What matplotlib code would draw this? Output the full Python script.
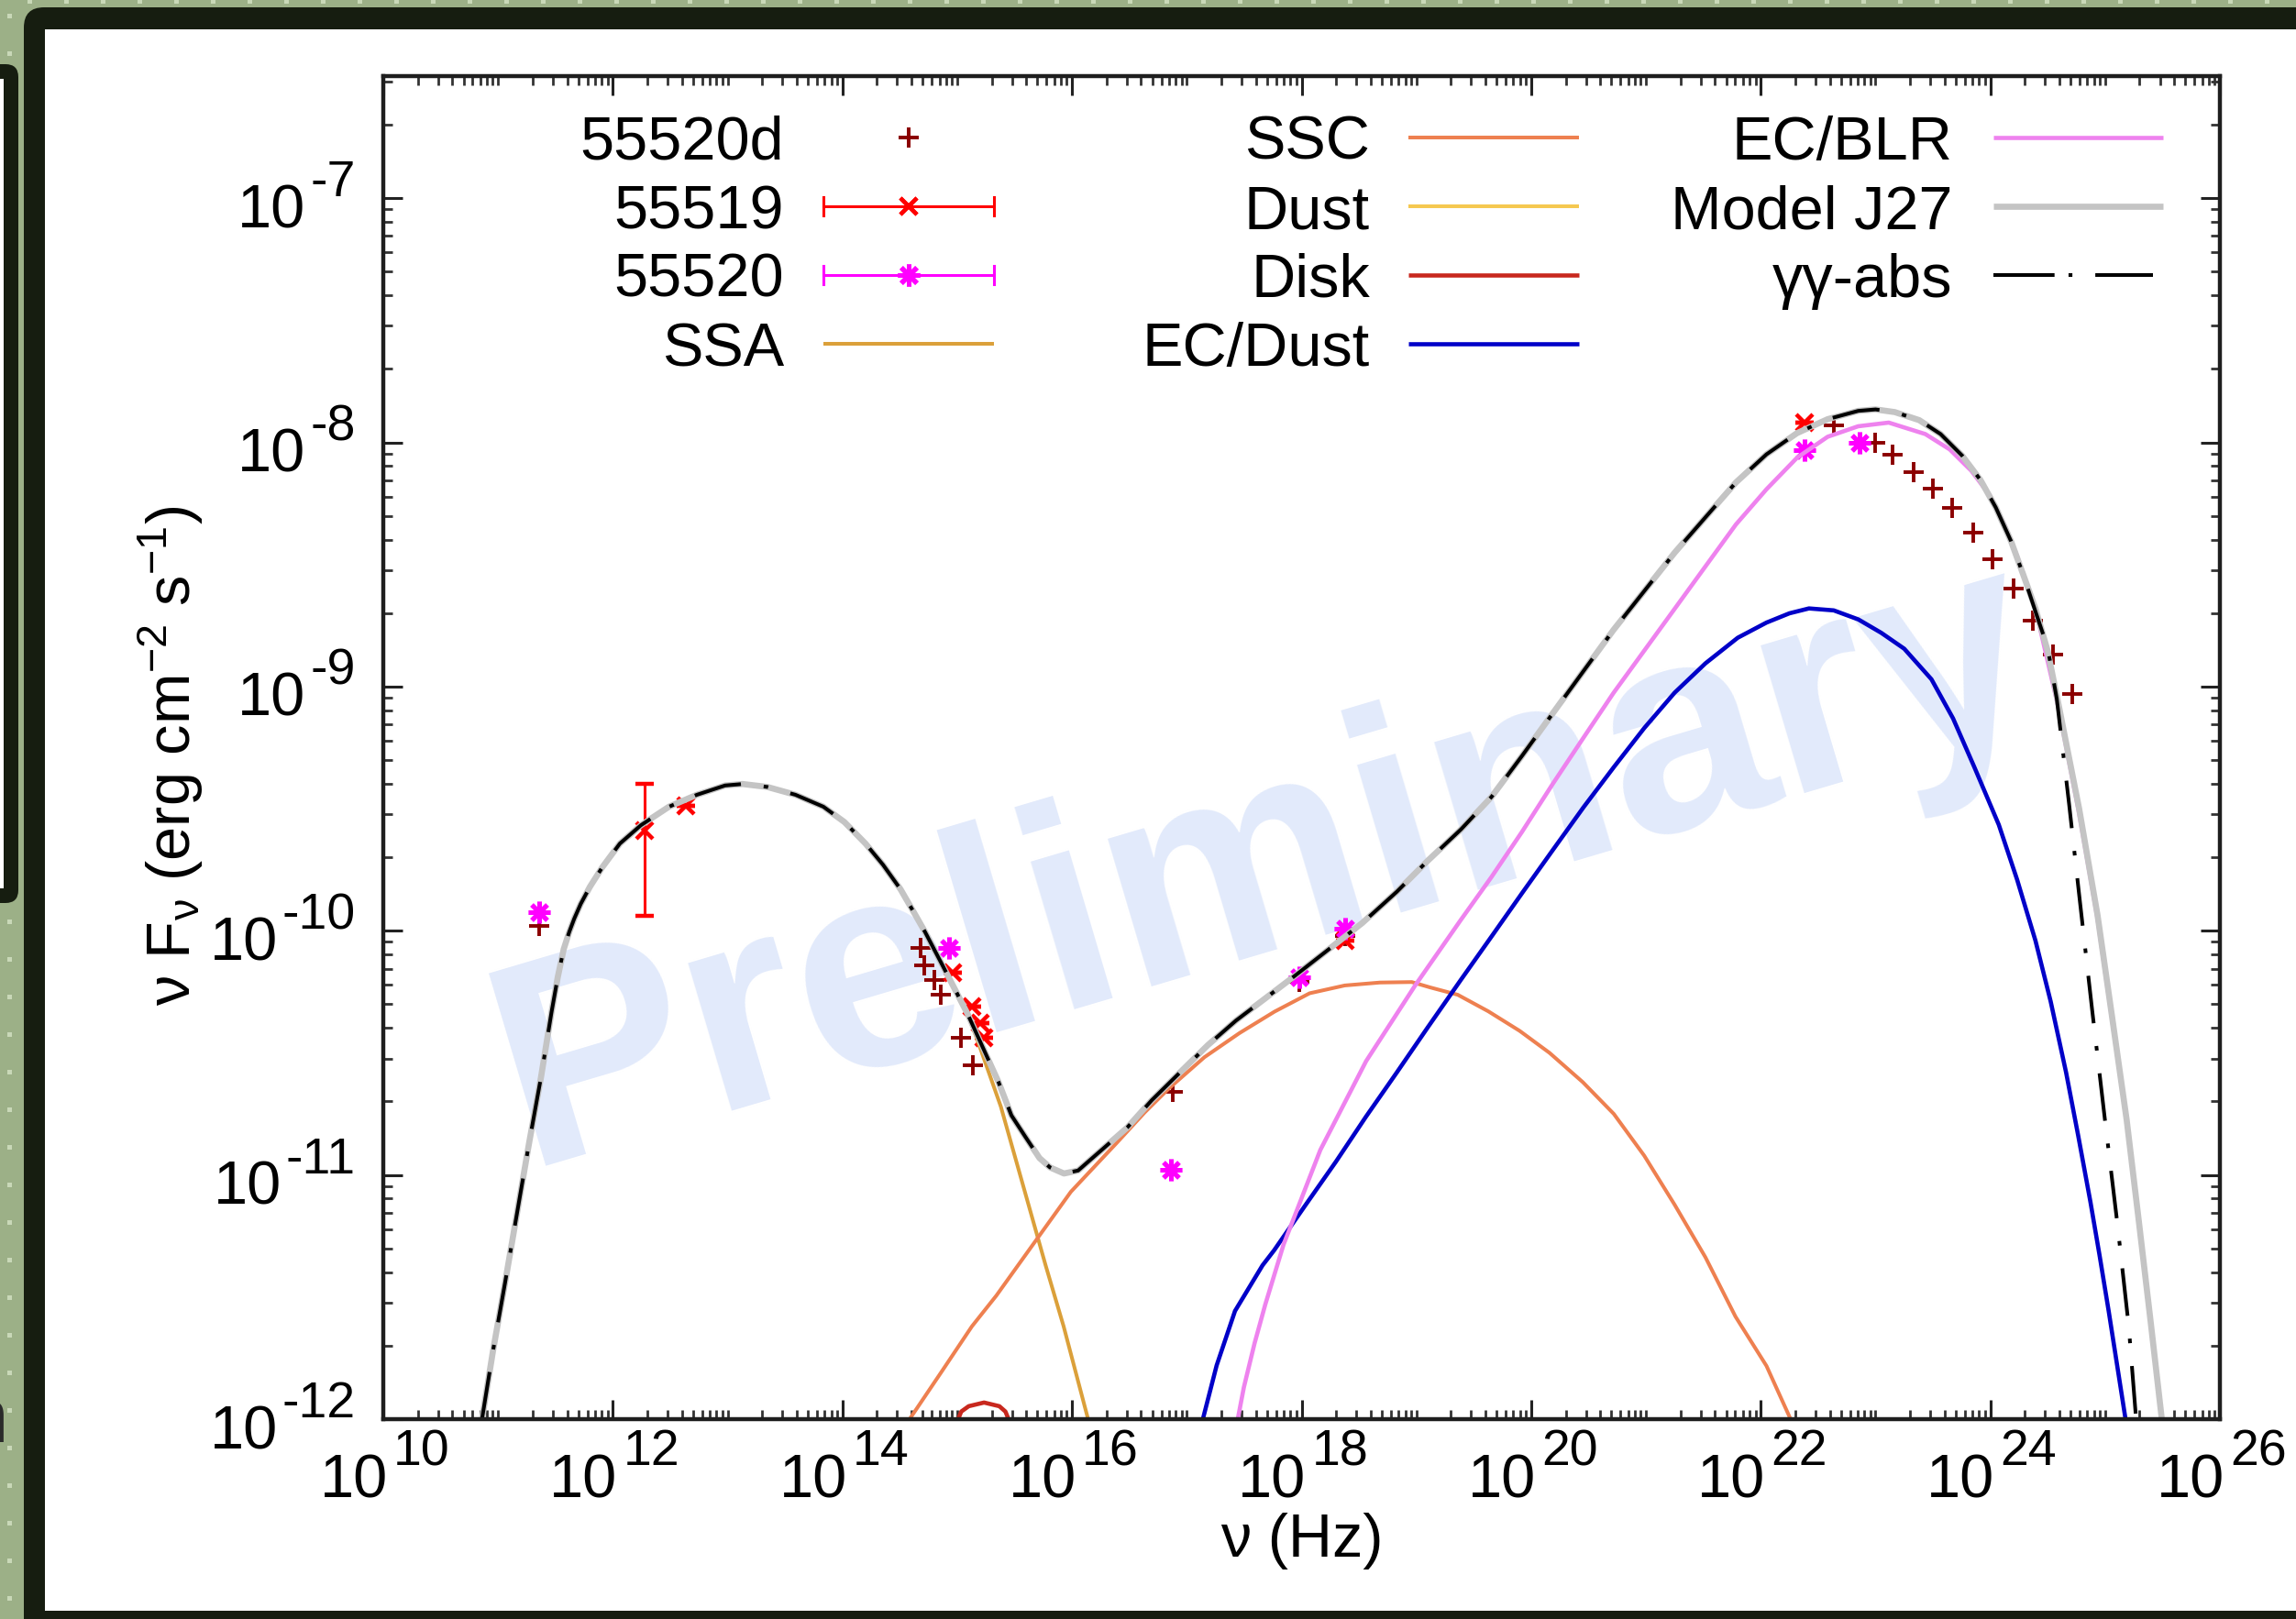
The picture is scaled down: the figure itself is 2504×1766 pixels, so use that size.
import matplotlib
matplotlib.use("Agg")
import matplotlib.pyplot as plt
from matplotlib.patches import FancyBboxPatch
from matplotlib.lines import Line2D
from matplotlib.text import Annotation
from matplotlib.ticker import FixedLocator, NullFormatter
from matplotlib.transforms import IdentityTransform

plt.rcParams['font.family'] = ['Liberation Sans', 'DejaVu Sans']
plt.rcParams['mathtext.fontset'] = 'custom'
plt.rcParams['mathtext.rm'] = 'Liberation Sans'
plt.rcParams['mathtext.it'] = 'Liberation Sans:italic'
plt.rcParams['mathtext.bf'] = 'Liberation Sans:bold'
plt.rcParams['lines.scale_dashes'] = False

W, H, DPI = 2504, 1766, 100

# ------------------------------------------------------------------
# Values: log10(nu / Hz) and log10(nuFnu / erg cm^-2 s^-1)
# ------------------------------------------------------------------
obs_55520d_lognu = [11.36, 14.68, 14.71, 14.80, 14.86, 15.03, 15.14, 16.88, 17.98, 18.38,
                    22.64, 23.00, 23.15, 23.33, 23.50, 23.67, 23.85, 24.02, 24.20, 24.37,
                    24.55, 24.71]
obs_55520d_logF = [-9.98, -10.07, -10.14, -10.20, -10.26, -10.44, -10.55, -10.66, -10.21, -10.02,
                   -7.93, -8.00, -8.05, -8.12, -8.19, -8.27, -8.37, -8.48, -8.60, -8.73,
                   -8.87, -9.03]

obs_55519_lognu = [12.28, 12.64, 14.96, 15.13, 15.20, 15.23, 18.38, 22.38]
obs_55519_logF = [-9.59, -9.49, -10.17, -10.31, -10.38, -10.44, -10.04, -7.92]
obs_55519_logF_low = [-9.94, -9.49, -10.17, -10.31, -10.38, -10.44, -10.04, -7.92]
obs_55519_logF_high = [-9.40, -9.49, -10.17, -10.31, -10.38, -10.44, -10.04, -7.92]

obs_55520_lognu = [11.36, 14.93, 16.86, 17.98, 18.38, 22.38, 22.86]
obs_55520_logF = [-9.925, -10.07, -10.98, -10.19, -9.99, -8.03, -8.00]

ssa_lognu = [10.86, 10.956, 11.06, 11.27, 11.374, 11.465, 11.52, 11.572, 11.62, 11.664, 11.72,
             11.80, 11.908, 12.061, 12.244, 12.489, 12.733, 12.978, 13.13, 13.345, 13.59,
             13.834, 14.018, 14.201, 14.354, 14.506, 14.629, 14.721, 14.87, 15.09, 15.17,
             15.38, 15.59, 15.77, 15.927, 16.14]
ssa_logF = [-12.0, -11.72, -11.444, -10.87, -10.60, -10.335, -10.19, -10.075, -10.005, -9.95,
            -9.89, -9.82, -9.74, -9.643, -9.568, -9.492, -9.443, -9.405, -9.399, -9.411, -9.443,
            -9.492, -9.555, -9.643, -9.73, -9.83, -9.93, -10.006, -10.14, -10.34, -10.44,
            -10.72, -11.07, -11.37, -11.62, -12.0]

ssc_lognu = [14.585, 14.862, 15.128, 15.341, 15.53, 15.99, 16.389, 16.633, 16.848, 17.153,
             17.459, 17.765, 18.07, 18.376, 18.682, 18.96, 19.12, 19.36, 19.627, 19.90,
             20.16, 20.45, 20.72, 20.985, 21.25, 21.518, 21.78, 22.05, 22.26]
ssc_logF = [-12.0, -11.807, -11.62, -11.494, -11.37, -11.069, -10.869, -10.744, -10.644, -10.518,
            -10.419, -10.331, -10.256, -10.224, -10.212, -10.21, -10.232, -10.262, -10.33, -10.41,
            -10.50, -10.62, -10.75, -10.921, -11.122, -11.337, -11.58, -11.782, -12.0]

dust_lognu = []   # lies below the plotted range
dust_logF = []

disk_lognu = [15.008, 15.035, 15.10, 15.234, 15.367, 15.42, 15.447]
disk_logF = [-12.0, -11.969, -11.947, -11.932, -11.947, -11.969, -12.0]

ecdust_lognu = [17.14, 17.26, 17.42, 17.66, 17.76, 18.03, 18.30, 18.56, 18.83, 19.10, 19.389,
                19.66, 19.922, 20.18, 20.455, 20.72, 20.985, 21.25, 21.518, 21.80, 22.05,
                22.25, 22.42, 22.636, 22.85, 23.05, 23.25, 23.487, 23.675, 23.861, 24.074,
                24.233, 24.393, 24.526, 24.66, 24.766, 24.872, 24.952, 25.032, 25.178]
ecdust_logF = [-12.0, -11.78, -11.557, -11.37, -11.309, -11.126, -10.945, -10.762, -10.58,
               -10.395, -10.20, -10.02, -9.845, -9.675, -9.495, -9.33, -9.17, -9.025, -8.905,
               -8.80, -8.738, -8.70, -8.68, -8.688, -8.725, -8.78, -8.845, -8.97, -9.13, -9.33,
               -9.566, -9.79, -10.04, -10.29, -10.58, -10.84, -11.11, -11.33, -11.56, -12.0]

ecblr_lognu = [17.444, 17.497, 17.59, 17.684, 17.843, 18.163, 18.562, 18.988, 19.121, 19.388,
               19.654, 19.92, 20.186, 20.452, 20.719, 20.985, 21.251, 21.518, 21.784, 22.05,
               22.316, 22.583, 22.849, 23.115, 23.434, 23.647, 23.834, 23.994, 24.127, 24.233,
               24.393, 24.6, 24.774, 24.934, 25.06, 25.188, 25.294, 25.40, 25.494]
ecblr_logF = [-12.0, -11.87, -11.69, -11.53, -11.285, -10.898, -10.534, -10.225, -10.135,
              -9.955, -9.78, -9.595, -9.40, -9.212, -9.025, -8.853, -8.681, -8.508, -8.336,
              -8.192, -8.063, -7.977, -7.934, -7.919, -7.966, -8.029, -8.116, -8.216, -8.341,
              -8.466, -8.68, -9.10, -9.52, -9.95, -10.36, -10.78, -11.20, -11.62, -12.0]

j27_lognu = [10.86, 10.956, 11.06, 11.27, 11.374, 11.465, 11.52, 11.572, 11.62, 11.664, 11.72,
             11.80, 11.908, 12.061, 12.244, 12.489, 12.733, 12.978, 13.13, 13.345, 13.59,
             13.834, 14.018, 14.201, 14.354, 14.506, 14.629, 14.721, 14.87, 15.09, 15.36,
             15.472, 15.594, 15.717, 15.808, 15.93, 16.053, 16.145, 16.267, 16.481, 16.695,
             16.939, 17.184, 17.428, 17.672, 17.918, 18.223, 18.529, 18.83, 19.095, 19.388,
             19.654, 19.92, 20.186, 20.452, 20.719, 20.985, 21.251, 21.518, 21.784, 22.05,
             22.316, 22.583, 22.849, 23.0, 23.168, 23.381, 23.567, 23.754, 23.914, 24.047,
             24.18, 24.287, 24.393, 24.5, 24.6, 24.774, 24.934, 25.06, 25.188, 25.294, 25.40,
             25.494]
j27_logF = [-12.0, -11.72, -11.444, -10.87, -10.60, -10.335, -10.19, -10.075, -10.005, -9.95,
            -9.89, -9.82, -9.74, -9.643, -9.568, -9.492, -9.443, -9.405, -9.399, -9.411, -9.443,
            -9.492, -9.555, -9.643, -9.73, -9.83, -9.93, -10.006, -10.14, -10.34, -10.62,
            -10.756, -10.844, -10.931, -10.969, -10.994, -10.982, -10.944, -10.894, -10.806,
            -10.694, -10.581, -10.468, -10.368, -10.281, -10.193, -10.081, -9.968, -9.84,
            -9.715, -9.585, -9.452, -9.284, -9.111, -8.939, -8.767, -8.609, -8.451, -8.307,
            -8.164, -8.049, -7.962, -7.905, -7.871, -7.865, -7.876, -7.909, -7.966, -8.054,
            -8.154, -8.266, -8.404, -8.542, -8.68, -8.855, -9.087, -9.501, -9.936, -10.35,
            -10.775, -11.19, -11.614, -12.0]

ggabs_lognu = [10.86, 10.956, 11.06, 11.27, 11.374, 11.465, 11.52, 11.572, 11.62, 11.664, 11.72,
               11.80, 11.908, 12.061, 12.244, 12.489, 12.733, 12.978, 13.13, 13.345, 13.59,
               13.834, 14.018, 14.201, 14.354, 14.506, 14.629, 14.721, 14.87, 15.09, 15.36,
               15.472, 15.594, 15.717, 15.808, 15.93, 16.053, 16.145, 16.267, 16.481, 16.695,
               16.939, 17.184, 17.428, 17.672, 17.918, 18.223, 18.529, 18.83, 19.095, 19.388,
               19.654, 19.92, 20.186, 20.452, 20.719, 20.985, 21.251, 21.518, 21.784, 22.05,
               22.316, 22.583, 22.849, 23.0, 23.168, 23.381, 23.567, 23.754, 23.914, 24.047,
               24.18, 24.287, 24.393, 24.50, 24.579, 24.686, 24.771, 24.886, 25.0, 25.107,
               25.206, 25.27]
ggabs_logF = [-12.0, -11.72, -11.444, -10.87, -10.60, -10.335, -10.19, -10.075, -10.005, -9.95,
              -9.89, -9.82, -9.74, -9.643, -9.568, -9.492, -9.443, -9.405, -9.399, -9.411, -9.443,
              -9.492, -9.555, -9.643, -9.73, -9.83, -9.93, -10.006, -10.14, -10.34, -10.62,
              -10.756, -10.844, -10.931, -10.969, -10.994, -10.982, -10.944, -10.894, -10.806,
              -10.694, -10.581, -10.468, -10.368, -10.281, -10.193, -10.081, -9.968, -9.84,
              -9.715, -9.585, -9.452, -9.284, -9.111, -8.939, -8.767, -8.609, -8.451, -8.307,
              -8.164, -8.049, -7.962, -7.905, -7.871, -7.865, -7.876, -7.909, -7.966, -8.054,
              -8.154, -8.266, -8.404, -8.542, -8.692, -8.842, -9.05, -9.48, -9.84, -10.32,
              -10.78, -11.20, -11.62, -12.0]

x_lim_exp = (10, 26)
y_lim_exp = (-12, -6.5)
xtick_major_exp = [10, 12, 14, 16, 18, 20, 22, 24, 26]
ytick_major_exp = [-12, -11, -10, -9, -8, -7]

legend_labels = [["55520d", "55519", "55520", "SSA"],
                 ["SSC", "Dust", "Disk", "EC/Dust"],
                 ["EC/BLR", "Model J27", "γγ-abs"]]

C_DARKRED, C_RED, C_MAG = '#8b0000', '#ff0000', '#ff00ff'
C_SSA, C_SSC, C_DUST, C_DISK = '#dba03a', '#ee8050', '#f5c850', '#c8281e'
C_ECD, C_ECB, C_J27, C_GG = '#0000c8', '#ee82ee', '#c4c4c4', '#000000'
GG_DASH_PLOT = (37.5, 18, 3.6, 18)
GG_DASH_KEY = (48, 11, 3, 18)
AST = (8, 2, 0)


def P(v):
    return [10.0 ** t for t in v]


fig = plt.figure(figsize=(W / DPI, H / DPI), dpi=DPI)
fig.patch.set_facecolor('#9cb087')


def prect(x0, y0, x1, y1, color, r=0.0, z=-10):
    style = f"round,pad=0,rounding_size={r}" if r > 0 else "square,pad=0"
    p = FancyBboxPatch((x0, H - y1), x1 - x0, y1 - y0, boxstyle=style,
                       transform=IdentityTransform(), fc=color, ec='none', zorder=z)
    fig.add_artist(p)


# slide decoration: dotted green background, dark frame, neighbouring box
for k in range(63):
    prect(30 + 40 * k, 0, 35 + 40 * k, 4, '#c9d8b8', z=-12)
for yy in [15, 56] + [1003 + 41 * k for k in range(19)]:
    prect(8, yy, 13, yy + 5, '#c9d8b8', z=-12)
prect(26, 8, 2800, 2000, '#161d10', r=22)
prect(49, 32, 2700, 1757, 'white', z=-9)
prect(-60, 70, 20, 985, '#161d10', r=14)
prect(-60, 86, 4, 969, 'white', z=-9)
fig.text(9 / W, 1 - 1573 / H, 'n', ha='right', va='baseline', fontsize=60, color='#2a2a2a')

# ------------------------------------------------------------------
ax = fig.add_axes([418 / W, 1 - 1548 / H, (2421 - 418) / W, (1548 - 83) / H])
ax.set_facecolor('white')
ax.set_xscale('log')
ax.set_yscale('log')
ax.set_xlim(10.0 ** x_lim_exp[0], 10.0 ** x_lim_exp[1])
ax.set_ylim(10.0 ** y_lim_exp[0], 10.0 ** y_lim_exp[1])

ax.xaxis.set_major_locator(FixedLocator([10.0 ** e for e in xtick_major_exp]))
xminor = []
for k in range(x_lim_exp[0], x_lim_exp[1]):
    for m in range(1, 10):
        if m == 1 and k in xtick_major_exp:
            continue
        xminor.append(m * 10.0 ** k)
ax.xaxis.set_minor_locator(FixedLocator(xminor))
ax.yaxis.set_major_locator(FixedLocator([10.0 ** e for e in ytick_major_exp]))
yminor = [m * 10.0 ** k for k in range(-12, -6) for m in range(2, 10)]
ax.yaxis.set_minor_locator(FixedLocator(yminor))
for axis in (ax.xaxis, ax.yaxis):
    axis.set_major_formatter(NullFormatter())
    axis.set_minor_formatter(NullFormatter())
ax.tick_params(which='major', direction='in', length=15, width=2.2, color='#222222',
               top=True, right=True, labelbottom=False, labelleft=False)
ax.tick_params(which='minor', direction='in', length=7.5, width=2.0, color='#333333',
               top=True, right=True)
for s in ax.spines.values():
    s.set_linewidth(3.2)
    s.set_color('#1e1e1e')
    s.set_zorder(20)

# watermark
ax.text(574 / W, 1 - 1272 / H, 'Preliminary', transform=fig.transFigure, rotation=16.5,
        rotation_mode='anchor', ha='left', va='baseline', fontsize=229, fontweight='bold',
        color='#e2eafb', zorder=1, clip_on=False)

# data
ax.plot(P(obs_55520d_lognu), P(obs_55520d_logF), ls='none', marker='+', ms=16, mew=2.8,
        color=C_DARKRED, zorder=2)
f19 = P(obs_55519_logF)
lo19 = [f - l for f, l in zip(f19, P(obs_55519_logF_low))]
hi19 = [h - f for f, h in zip(f19, P(obs_55519_logF_high))]
ax.errorbar(P(obs_55519_lognu), f19, yerr=[lo19, hi19], ls='none', marker='x', ms=13, mew=3.2,
            color=C_RED, ecolor=C_RED, elinewidth=2.2, capsize=7, capthick=2.2, zorder=2.1)
ax.plot(P(obs_55520_lognu), P(obs_55520_logF), ls='none', marker=AST, ms=17, mew=3.6,
        color=C_MAG, zorder=2.2)

# model curves (gnuplot drawing order)
ax.plot(P(ssa_lognu), P(ssa_logF), color=C_SSA, lw=2.9, zorder=3)
ax.plot(P(ssc_lognu), P(ssc_logF), color=C_SSC, lw=2.9, zorder=4)
ax.plot(P(dust_lognu), P(dust_logF), color=C_DUST, lw=2.9, zorder=5)
ax.plot(P(disk_lognu), P(disk_logF), color=C_DISK, lw=3.3, zorder=6)
ax.plot(P(ecdust_lognu), P(ecdust_logF), color=C_ECD, lw=3.3, zorder=7)
ax.plot(P(ecblr_lognu), P(ecblr_logF), color=C_ECB, lw=3.3, zorder=8)
ax.plot(P(j27_lognu), P(j27_logF), color=C_J27, lw=4.8, zorder=9)
ax.plot(P(ggabs_lognu), P(ggabs_logF), color=C_GG, lw=2.9, dashes=GG_DASH_PLOT, zorder=10)

# ------------------------------------------------------------------
# tick labels (gnuplot style 10^n with plain hyphen)
BASE_FS, EXP_FS = 48, 40
to_disp = ax.transData.transform
for e in xtick_major_exp:
    tx, ty = to_disp((10.0 ** e, 10.0 ** y_lim_exp[0]))
    fig.text((tx + 5) / W, (ty - 85) / H, '10', ha='right', va='baseline', fontsize=BASE_FS)
    fig.text((tx + 11) / W, (ty - 50) / H, str(e), ha='left', va='baseline', fontsize=EXP_FS)
for e in ytick_major_exp:
    tx, ty = to_disp((10.0 ** x_lim_exp[0], 10.0 ** e))
    et = fig.text((tx - 30) / W, (ty + 2) / H, str(e), ha='right', va='baseline', fontsize=EXP_FS)
    a = Annotation('10', xy=(0, ty - 32), xycoords=(et, 'figure pixels'), xytext=(-5, 0),
                   textcoords='offset pixels', ha='right', va='baseline', fontsize=BASE_FS)
    fig.add_artist(a)

fig.text(1419.5 / W, 1 - 1698 / H, 'ν (Hz)', ha='center', va='baseline', fontsize=BASE_FS)
fig.text(186 / W, 1 - 824 / H, r'ν F$_\mathrm{ν}$ (erg cm$^{-2}$ s$^{-1}$)', rotation=90,
         ha='center', va='center', fontsize=BASE_FS)

# ------------------------------------------------------------------
# legend (three columns, text right-aligned, sample to the right)
col_text_right = [855, 1494, 2129]
col_sample = [(898, 1084), (1536, 1722), (2174, 2359)]
row_y = [150, 225, 300, 375]


def fline(x0, x1, y0, y1, **kw):
    fig.add_artist(Line2D([x0 / W, x1 / W], [1 - y0 / H, 1 - y1 / H],
                          transform=fig.transFigure, **kw))


styles = [[('pt', C_DARKRED, '+'), ('err', C_RED, 'x'), ('err', C_MAG, AST), ('ln', C_SSA, 2.9)],
          [('ln', C_SSC, 2.9), ('ln', C_DUST, 2.9), ('ln', C_DISK, 3.3), ('ln', C_ECD, 3.3)],
          [('ln', C_ECB, 3.3), ('ln', C_J27, 4.8), ('gg', C_GG, 2.9)]]
for c, labels in enumerate(legend_labels):
    for r, lab in enumerate(labels):
        y = row_y[r]
        fig.text(col_text_right[c] / W, 1 - (y + 24) / H, lab, ha='right', va='baseline',
                 fontsize=BASE_FS)
        x0, x1 = col_sample[c]
        xm = 0.5 * (x0 + x1)
        kind, col, extra = styles[c][r]
        if kind == 'pt':
            fline(xm, xm, y, y, ls='none', marker='+', ms=16, mew=2.8, color=col)
        elif kind == 'err':
            fline(x0, x1, y, y, color=col, lw=2.2)
            fline(x0, x0, y - 10, y + 10, color=col, lw=2.2)
            fline(x1, x1, y - 10, y + 10, color=col, lw=2.2)
            if extra == 'x':
                fline(xm, xm, y, y, ls='none', marker='x', ms=13, mew=3.2, color=col)
            else:
                fline(xm, xm, y, y, ls='none', marker=extra, ms=17, mew=3.6, color=col)
        elif kind == 'ln':
            fline(x0, x1, y, y, color=col, lw=extra, solid_capstyle='butt')
        else:
            fline(x0, x1 - 11, y, y, color=col, lw=extra, dashes=GG_DASH_KEY,
                  dash_capstyle='butt')

fig.savefig('out.png', dpi=DPI)
